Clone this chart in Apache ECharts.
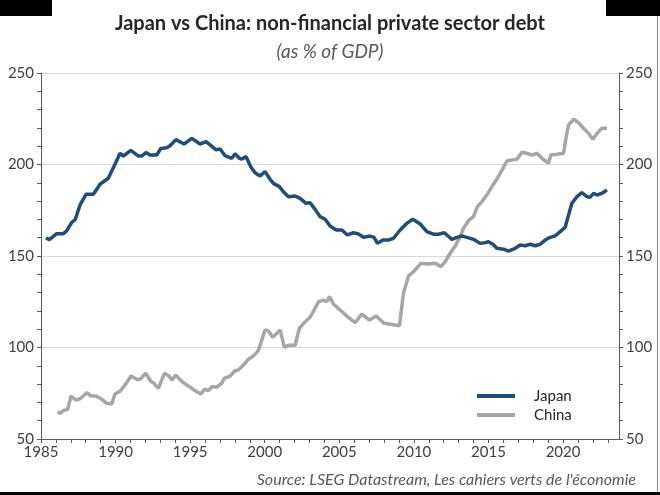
<!DOCTYPE html>
<html>
<head>
<meta charset="utf-8">
<script src="https://cdn.jsdelivr.net/npm/echarts@6/dist/echarts.min.js"></script>
<style>
html,body{margin:0;padding:0;background:#fff;}
#chart{width:660px;height:495px;}
</style>
</head>
<body>
<div id="chart"></div>
<script>
const titleText = 'Japan vs China: non-financial private sector debt';
const subtitleText = '(as % of GDP)';
const sourceText = "Source: LSEG Datastream, Les cahiers verts de l'économie";
const seriesNames = ['Japan', 'China'];
const yTicks = [50, 100, 150, 200, 250];
const xTicks = [1985, 1990, 1995, 2000, 2005, 2010, 2015, 2020];

const japanDates = [1985.34,1985.56,1986.05,1986.50,1986.72,1987.06,1987.28,1987.62,1988.02,1988.51,1988.96,1989.51,1989.96,1990.30,1990.52,1991.02,1991.53,1991.75,1992.04,1992.31,1992.76,1993.03,1993.43,1993.65,1994.05,1994.59,1995.11,1995.66,1996.07,1996.56,1996.74,1997.01,1997.34,1997.79,1998.01,1998.30,1998.46,1998.75,1999.06,1999.35,1999.69,2000.02,2000.36,2000.58,2000.98,2001.25,2001.59,2002.04,2002.37,2002.77,2003.04,2003.44,2003.71,2004.05,2004.38,2004.79,2005.17,2005.54,2005.95,2006.28,2006.62,2007.07,2007.33,2007.56,2007.92,2008.29,2008.63,2009.08,2009.53,2009.93,2010.42,2010.87,2011.31,2011.65,2012.03,2012.21,2012.55,2012.88,2013.22,2013.55,2014.00,2014.44,2014.78,2015.00,2015.30,2015.56,2016.01,2016.34,2016.79,2017.13,2017.46,2017.80,2018.13,2018.47,2018.80,2019.14,2019.47,2019.81,2020.14,2020.43,2020.59,2020.93,2021.26,2021.60,2021.82,2022.04,2022.27,2022.61,2022.94];
const japanDebt = [160,158.9,162.2,162.2,163.7,168.4,169.7,177.9,183.7,183.7,189.2,192.5,200.1,206.1,204.6,207.7,204.6,204.6,206.5,205.2,205.2,208.8,209.2,210.3,213.6,211.2,214.3,211.2,212.5,209.2,208,208.5,204.8,203.4,205.9,203.4,203,204.3,198.8,195.5,193.7,196.1,191.9,189.7,187.9,185.1,182.4,182.8,181.5,178.8,179.1,174.8,171.5,170.1,166.4,164.2,164.2,161.5,162.7,162,160.2,160.9,160.2,156.9,158.7,158.7,159.7,164.2,167.9,170.1,167.5,163.3,161.9,161.9,162.7,161.5,159.1,160.2,160.9,160.2,159.1,156.9,157.3,157.8,156.4,154.2,153.7,152.7,154.2,156,155.6,156.4,155.6,156.4,158.7,160.2,161,163.3,165.7,174.2,178.8,182.4,184.6,182.4,182.1,184.3,183.3,184.3,186.1];

const chinaDates = [1986.12,1986.27,1986.50,1986.79,1987.01,1987.33,1987.62,1988.07,1988.35,1988.67,1989.02,1989.41,1989.74,1989.96,1990.30,1990.63,1991.04,1991.42,1991.64,1992.02,1992.38,1992.53,1992.87,1993.27,1993.58,1993.77,1994.03,1994.39,1994.77,1995.11,1995.44,1995.73,1995.95,1996.22,1996.49,1996.78,1997.12,1997.29,1997.68,1998.01,1998.23,1998.57,1998.90,1999.24,1999.57,2000.02,2000.24,2000.54,2000.76,2001.03,2001.32,2001.59,2002.04,2002.32,2002.71,2003.04,2003.31,2003.60,2003.93,2004.16,2004.34,2004.60,2005.05,2005.50,2006.06,2006.51,2007.02,2007.47,2008.00,2008.52,2009.03,2009.30,2009.64,2009.97,2010.47,2010.87,2011.43,2011.81,2012.10,2012.43,2012.77,2013.10,2013.32,2013.66,2013.99,2014.26,2014.56,2014.89,2015.23,2015.60,2015.97,2016.23,2016.57,2016.90,2017.24,2017.58,2017.91,2018.25,2018.58,2019.02,2019.18,2019.59,2020.03,2020.21,2020.37,2020.70,2021.04,2021.37,2021.71,2022.00,2022.27,2022.61,2022.94];
const chinaDebt = [64.9,64.0,65.5,66.2,73.5,71.3,72.0,75.3,73.5,73.5,72.0,69.5,69.1,74.6,76.1,79.5,84.4,82.6,82.6,85.9,81.3,80.8,77.7,85.9,84.4,82.2,85.0,81.9,79.5,77.7,75.8,74.6,77.2,76.5,78.7,78.3,80.5,83.2,84.4,87.3,87.7,90.4,93.6,95.4,98.3,109.6,109.2,105.6,107.4,109.6,100.1,101.2,101.2,110.5,114.1,116.5,120.5,125.0,125.9,125.0,127.8,123.8,120.5,117.2,113.6,118.3,115.0,117.2,113.2,112.6,111.9,129.6,139.1,141.4,146.0,145.6,146,144.2,146.9,151.5,155.5,160.5,165.1,169.3,171.5,177.0,179.7,183.3,187.9,192.5,197.9,201.9,202.5,202.8,206.7,206.1,205.2,206.1,203.4,200.7,205.2,205.6,206.1,215.2,221.6,224.7,222.8,219.8,217.0,213.8,217.0,219.8,219.8];

const pairs = (xs, ys) => xs.map((x, i) => [x, ys[i]]);

const font = 'Lato, "Open Sans", sans-serif';
const axisColor = '#595959';
const labelColor = '#404040';

const chart = echarts.init(document.getElementById('chart'), null, {renderer: 'canvas'});

function yAxisDef(pos) {
  return {
    type: 'value', position: pos, min: yTicks[0], max: yTicks[yTicks.length - 1], interval: 50,
    axisLine: {show: true, lineStyle: {color: axisColor, width: 1}},
    axisTick: {show: true, length: 4, lineStyle: {color: axisColor}},
    minorTick: {show: true, splitNumber: 5, length: 4, lineStyle: {color: axisColor}},
    axisLabel: {color: labelColor, fontFamily: font, fontSize: 15, margin: 7},
    splitLine: {show: pos === 'left', lineStyle: {color: '#d9d9d9', width: 1}}
  };
}

chart.setOption({
  backgroundColor: '#ffffff',
  animation: false,
  title: [
    {text: titleText, left: 'center', top: 9, textStyle: {fontFamily: font, fontSize: 20, fontWeight: 'bold', color: '#262626'}},
    {text: subtitleText, left: 'center', top: 37, textStyle: {fontFamily: font, fontSize: 19, fontStyle: 'italic', fontWeight: 'normal', color: '#595959'}}
  ],
  grid: {left: 41, right: 41, top: 73, bottom: 56, containLabel: false},
  xAxis: {
    type: 'value', min: xTicks[0], max: 2023.75, interval: 1,
    axisLine: {show: true, onZero: false, lineStyle: {color: axisColor, width: 1}},
    axisTick: {show: true, length: 4, lineStyle: {color: axisColor}},
    axisLabel: {
      color: labelColor, fontFamily: font, fontSize: 15, margin: 6,
      showMaxLabel: false,
      formatter: v => (xTicks.indexOf(Math.round(v * 100) / 100) >= 0 ? String(v) : '')
    },
    splitLine: {show: false}
  },
  yAxis: [yAxisDef('left'), yAxisDef('right')],
  legend: {
    orient: 'vertical', left: 472, top: 383, itemGap: 3,
    icon: 'rect', itemWidth: 38, itemHeight: 4,
    textStyle: {fontFamily: font, fontSize: 15, color: '#262626', padding: [0, 0, 0, 14], lineHeight: 16},
    data: seriesNames
  },
  series: [
    {name: seriesNames[0], type: 'line', data: pairs(japanDates, japanDebt), showSymbol: false, smooth: false,
     lineStyle: {color: '#1f4e79', width: 3.5}, itemStyle: {color: '#1f4e79'}, z: 3},
    {name: seriesNames[1], type: 'line', yAxisIndex: 1, data: pairs(chinaDates, chinaDebt), showSymbol: false, smooth: false,
     lineStyle: {color: '#a6a6a6', width: 3.5}, itemStyle: {color: '#a6a6a6'}, z: 2}
  ],
  graphic: [
    {type: 'text', right: 24, top: 472, style: {text: sourceText, fontFamily: font, fontSize: 16, fontStyle: 'italic', fill: '#595959'}},
    {type: 'rect', left: 0, top: 0, shape: {width: 52, height: 16}, style: {fill: '#000'}},
    {type: 'rect', left: 606, top: 0, shape: {width: 54, height: 16}, style: {fill: '#000'}},
    {type: 'rect', left: 0, top: 492, shape: {width: 660, height: 3}, style: {fill: '#000'}},
    {type: 'rect', left: 657, top: 16, shape: {width: 1, height: 476}, style: {fill: '#8c8c8c'}}
  ]
});
</script>
</body>
</html>
